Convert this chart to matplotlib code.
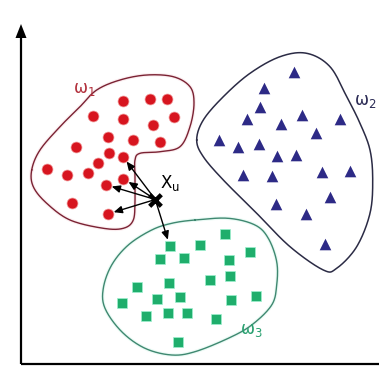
import numpy as np
import matplotlib.pyplot as plt

# marker positions (pixel coords, y down)
red_x = [122.5, 150, 166.5, 92.5, 123.3, 174.2, 153.3, 107.5, 133, 159.6, 75.8,
         109.2, 122.8, 97.7, 46.8, 66.7, 87.7, 123.3, 105.7, 72, 107.7]
red_y = [100.7, 99.2, 98.8, 116, 119.2, 117, 125.2, 137, 140.2, 141.7, 147,
         152.7, 156.5, 162.5, 168.5, 175, 173, 178.5, 184.7, 203.3, 214]

blue_x = [294.3, 264, 260.3, 301.7, 247, 280.7, 340, 315.7, 218.7, 238.3, 259.3,
          277.3, 296, 243.3, 272, 321.7, 350, 275.7, 329.7, 306, 324.7]
blue_y = [71.7, 88, 107, 114.7, 118.7, 123.7, 119, 133.3, 140, 146.7, 144.3,
          155.7, 155, 174.7, 176, 172, 171.3, 204.3, 197.3, 214.3, 244.3]

green_x = [169.7, 160, 184, 200, 225, 250, 229, 168.7, 136.7, 210, 230, 179.7,
           156.7, 122, 256, 230.7, 145.7, 168, 187, 216, 178]
green_y = [245.7, 259, 258, 244.7, 233.7, 251.7, 259.7, 283, 287, 279.7, 276,
           297, 299, 303, 296, 300, 315.7, 313, 313, 318.7, 341.7]

# query point and its 5 nearest neighbours
xu = (155.3, 199.5)
nn_red = [12, 17, 18, 20]
nn_green = [0]

# class outlines (control points, smoothed as closed curves)
red_bx = [31.7, 40, 60, 80, 96.7, 120, 146.7, 173.3, 190, 194, 190, 180, 160, 140,
          135, 135, 135, 133.3, 123.3, 103.3, 70, 46.7, 33.3]
red_by = [170, 150, 126.7, 106.7, 90, 80, 75, 76.7, 86.7, 103.3, 126.7, 146.7,
          151.7, 153.3, 160, 176.7, 200, 220, 228.3, 228.3, 220, 203.3, 186.7]

blue_bx = [196.7, 203.3, 223.3, 256.7, 290, 323.3, 336.7, 356.7, 370, 372.7, 370,
           360, 346.7, 330, 306.7, 280, 250, 223.3, 203.3]
blue_by = [140, 156.7, 180, 213.3, 246.7, 270, 268.3, 246.7, 213.3, 180, 150,
           123.3, 96.7, 66.7, 53.3, 56.7, 73.3, 96.7, 120]

green_bx = [195, 228.3, 255, 268.3, 276.7, 276.7, 271.7, 251.7, 228.3, 195, 171.7,
            145, 121.7, 105, 103.3, 111.7, 128.3, 151.7, 171.7]
green_by = [220, 218.3, 225, 238.3, 261.7, 285, 305, 325, 338.3, 351.7, 355,
            348.3, 331.7, 308.3, 288.3, 265, 245, 230, 223.3]


def closed_curve(px, py, n=20):
    # periodic Catmull-Rom spline through the control points
    p = np.column_stack([px, py])
    m = len(p)
    t = np.linspace(0, 1, n, endpoint=False)[:, None]
    out = []
    for i in range(m):
        p0, p1, p2, p3 = p[i - 1], p[i], p[(i + 1) % m], p[(i + 2) % m]
        out.append(0.5 * (2 * p1 + (-p0 + p2) * t
                          + (2 * p0 - 5 * p1 + 4 * p2 - p3) * t ** 2
                          + (-p0 + 3 * p1 - 3 * p2 + p3) * t ** 3))
    out = np.vstack(out + [p[:1]])
    return out[:, 0], out[:, 1]


fig = plt.figure(figsize=(3.79, 3.79), dpi=100)
ax = fig.add_axes([0, 0, 1, 1])
ax.set_xlim(0, 379)
ax.set_ylim(379, 0)
ax.axis("off")

# axes
ax.plot([21, 21], [364, 36], color="black", lw=1.6, solid_capstyle="butt")
ax.plot([21, 379], [364, 364], color="black", lw=1.6, solid_capstyle="butt")
ax.fill([15.5, 26.5, 21], [38, 38, 24], color="black", lw=0)

# outlines
cx, cy = closed_curve(red_bx, red_by)
ax.plot(cx, cy, color="#e07080", lw=2.6, alpha=0.12)
ax.plot(cx, cy, color="#7a2233", lw=1.0)
cx, cy = closed_curve(blue_bx, blue_by)
ax.plot(cx, cy, color="#2b2b45", lw=1.1)
cx, cy = closed_curve(green_bx, green_by)
ax.plot(cx, cy, color="#8fe8c8", lw=2.6, alpha=0.18)
ax.plot(cx, cy, color="#3f8870", lw=1.0)

# points
ax.scatter(red_x, red_y, s=62, color="#d7151f", edgecolors="#f3a0a0", linewidths=0.5, zorder=3)
ax.scatter(blue_x, blue_y, s=70, marker="^", color="#2d2a86", linewidths=0, zorder=3)
ax.scatter(green_x, green_y, s=48, marker="s", color="#1fae6c", edgecolors="#9ff0d0",
           linewidths=0.5, zorder=3)

# arrows to the nearest neighbours
targets = [(red_x[i], red_y[i]) for i in nn_red] + [(green_x[i], green_y[i]) for i in nn_green]
for tx, ty in targets:
    ax.annotate("", xy=(tx, ty), xytext=xu,
                arrowprops=dict(arrowstyle="-|>,head_length=0.5,head_width=0.22",
                                color="black", lw=1.0, shrinkA=0, shrinkB=4.5),
                zorder=4)
ax.scatter([xu[0]], [xu[1]], s=70, marker="x", color="black", linewidths=3.2, zorder=5)

# labels
ax.text(160, 188, r"$\mathrm{X_u}$", fontsize=12, color="black", ha="left", va="baseline")
ax.text(73, 93, r"$\mathrm{\omega_1}$", fontsize=12, color="#b2303c", ha="left", va="baseline")
ax.text(354, 105, r"$\mathrm{\omega_2}$", fontsize=12, color="#2b2b55", ha="left", va="baseline")
ax.text(240, 334, r"$\mathrm{\omega_3}$", fontsize=12, color="#2aa070", ha="left", va="baseline")

fig.savefig("out.png", dpi=100)
